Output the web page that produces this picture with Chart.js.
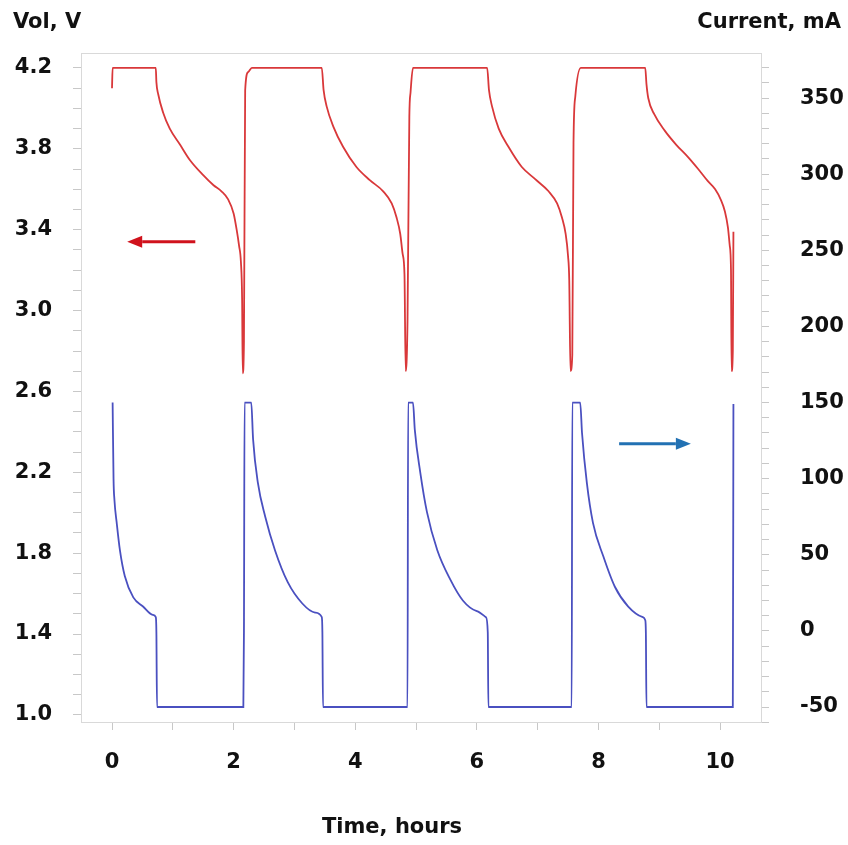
<!DOCTYPE html>
<html>
<head>
<meta charset="utf-8">
<script src="https://cdn.jsdelivr.net/npm/chart.js@4.4.1/dist/chart.umd.min.js"></script>
<style>
  html, body { margin: 0; padding: 0; background: #fff; }
  #chart { display: block; }
</style>
</head>
<body>
<canvas id="chart" width="848" height="845"></canvas>
<script>
// tick labels
const timeTicks = [0, 2, 4, 6, 8, 10];
const voltTicks = [1.0, 1.4, 1.8, 2.2, 2.6, 3.0, 3.4, 3.8, 4.2];
const currentTicks = [-50, 0, 50, 100, 150, 200, 250, 300, 350];

// voltage, V (left axis)
const voltTime = [
    0.00, 0.01, 0.72, 0.73, 0.76, 0.84, 0.95, 1.12, 1.28, 1.50, 1.67, 1.80, 1.91, 2.00, 2.05, 2.09, 2.12, 2.14, 2.15, 2.17, 2.19, 2.24, 2.30,
    3.45, 3.48, 3.53, 3.64, 3.80, 4.02, 4.24, 4.46, 4.60, 4.68, 4.74, 4.78, 4.81, 4.83, 4.86, 4.89, 4.91, 4.95,
    6.17, 6.20, 6.25, 6.36, 6.52, 6.74, 6.96, 7.18, 7.32, 7.40, 7.46, 7.50, 7.52, 7.54, 7.57, 7.59, 7.62, 7.71,
    8.77, 8.79, 8.82, 8.92, 9.09, 9.28, 9.47, 9.64, 9.80, 9.92, 10.01, 10.08, 10.13, 10.16, 10.18, 10.19, 10.21, 10.22
];
const voltValues = [
    4.10, 4.20, 4.20, 4.13, 4.07, 3.98, 3.90, 3.82, 3.745, 3.67, 3.62, 3.59, 3.55, 3.48, 3.40, 3.32, 3.24, 3.05, 2.69, 2.85, 4.09, 4.18, 4.20,
    4.20, 4.09, 4.01, 3.91, 3.81, 3.71, 3.645, 3.59, 3.53, 3.46, 3.38, 3.28, 3.18, 2.70, 2.95, 3.96, 4.08, 4.20,
    4.20, 4.09, 4.01, 3.90, 3.81, 3.71, 3.65, 3.59, 3.53, 3.46, 3.38, 3.27, 3.15, 2.70, 2.78, 3.83, 4.06, 4.20,
    4.20, 4.12, 4.05, 3.97, 3.89, 3.82, 3.76, 3.70, 3.64, 3.60, 3.55, 3.49, 3.41, 3.32, 3.20, 2.70, 2.80, 3.39
];

// current, mA (right axis)
const currentTime = [
    0.01, 0.025, 0.04, 0.08, 0.13, 0.21, 0.35, 0.51, 0.67, 0.72, 0.73, 0.74, 2.16, 2.17,
    2.18, 2.29, 2.32, 2.40, 2.52, 2.68, 2.89, 3.13, 3.34, 3.45, 3.46, 3.47, 4.86,
    4.87, 4.95, 4.98, 5.07, 5.18, 5.35, 5.56, 5.77, 6.00, 6.15, 6.18, 6.19, 7.56,
    7.57, 7.70, 7.73, 7.81, 7.91, 8.08, 8.27, 8.49, 8.73, 8.77, 8.78, 8.79, 10.21, 10.22
];
const currentValues = [
    150, 100, 86, 70, 53, 36, 22, 16, 10.5, 9, -1, -50, -50, 0,
    150, 150, 126, 97, 75, 53, 32, 18, 12, 9, -1, -50, -50,
    150, 150, 132, 104, 78, 53, 34, 20, 13, 9, -1, -50, -50,
    150, 150, 130, 97, 71, 49, 29, 16, 9, 7, -1, -50, -50, 149
];

const toPoints = (xs, ys) => xs.map((x, i) => ({ x: x, y: ys[i] }));
const stepTicks = (from, to, step) => {
    const out = [];
    for (let v = from; v <= to + 1e-9; v += step) out.push({ value: Math.round(v * 100) / 100 });
    return out;
};
const hasLabel = (list, v) => list.some(t => Math.abs(t - v) < 1e-6);

Chart.defaults.font.family = '"DejaVu Sans"';
Chart.defaults.font.size = 21;
Chart.defaults.font.weight = 'bold';
Chart.defaults.color = '#111';

function drawArrow(ctx, x1, y1, x2, y2, color) {
    const ang = Math.atan2(y2 - y1, x2 - x1);
    const head = 15;
    ctx.strokeStyle = color;
    ctx.fillStyle = color;
    ctx.lineWidth = 3;
    ctx.beginPath();
    ctx.moveTo(x1, y1);
    ctx.lineTo(x2 - head * Math.cos(ang), y2 - head * Math.sin(ang));
    ctx.stroke();
    ctx.beginPath();
    ctx.moveTo(x2, y2);
    ctx.lineTo(x2 - head * Math.cos(ang) + 6 * Math.sin(ang), y2 - head * Math.sin(ang) - 6 * Math.cos(ang));
    ctx.lineTo(x2 - head * Math.cos(ang) - 6 * Math.sin(ang), y2 - head * Math.sin(ang) + 6 * Math.cos(ang));
    ctx.closePath();
    ctx.fill();
}

const extras = {
    id: 'extras',
    afterDraw(chart) {
        const { ctx, chartArea: a, scales } = chart;
        ctx.save();
        // caixa do gráfico
        ctx.strokeStyle = '#d9d9d9';
        ctx.lineWidth = 1;
        ctx.strokeRect(a.left + 0.5, a.top + 0.5, a.right - a.left - 1, a.bottom - a.top - 1);

        // títulos dos eixos
        ctx.fillStyle = '#111';
        ctx.font = 'bold 21px "DejaVu Sans"';
        ctx.textBaseline = 'middle';
        ctx.textAlign = 'left';
        ctx.fillText('Vol, V', 13, 23);
        ctx.textAlign = 'right';
        ctx.fillText('Current, mA', 841, 23);
        ctx.textAlign = 'center';
        ctx.fillText('Time, hours', 392, 828);

        // setas indicando o eixo de cada curva
        const x = scales.x, yv = scales.y, yc = scales.y1;
        drawArrow(ctx, x.getPixelForValue(1.37), yv.getPixelForValue(3.34),
            x.getPixelForValue(0.25), yv.getPixelForValue(3.34), '#d0121c');
        drawArrow(ctx, x.getPixelForValue(8.34), yc.getPixelForValue(123),
            x.getPixelForValue(9.52), yc.getPixelForValue(123), '#2271b3');
        ctx.restore();
    }
};

const gridStyle = { drawOnChartArea: false, drawTicks: true, color: '#c8c8c8', lineWidth: 1 };

new Chart(document.getElementById('chart'), {
    type: 'line',
    data: {
        datasets: [{
            label: 'Voltage',
            data: toPoints(voltTime, voltValues),
            yAxisID: 'y',
            borderColor: '#d9383a',
            borderWidth: 1.8,
            pointRadius: 0,
            cubicInterpolationMode: 'monotone'
        }, {
            label: 'Current',
            data: toPoints(currentTime, currentValues),
            yAxisID: 'y1',
            borderColor: '#4a50c0',
            borderWidth: 1.8,
            pointRadius: 0,
            cubicInterpolationMode: 'monotone'
        }]
    },
    options: {
        responsive: false,
        animation: false,
        layout: { padding: { top: 53, left: 0, right: 0, bottom: 0 } },
        plugins: { legend: { display: false }, tooltip: { enabled: false } },
        scales: {
            x: {
                type: 'linear',
                min: -0.51,
                max: 10.69,
                border: { display: false },
                grid: { ...gridStyle, tickLength: 7 },
                afterBuildTicks: s => { s.ticks = stepTicks(0, 10, 1); },
                afterFit: s => { s.height = 122; },
                ticks: {
                    autoSkip: false,
                    maxRotation: 0,
                    padding: 20,
                    callback: v => hasLabel(timeTicks, v) ? String(v) : ''
                }
            },
            y: {
                position: 'left',
                min: 0.96,
                max: 4.274,
                border: { display: false },
                grid: { ...gridStyle, tickLength: 8 },
                afterBuildTicks: s => { s.ticks = stepTicks(1.0, 4.2, 0.1); },
                afterFit: s => { s.width = 81; },
                ticks: {
                    autoSkip: false,
                    padding: 21,
                    callback: v => hasLabel(voltTicks, v) ? v.toFixed(1) : ''
                }
            },
            y1: {
                position: 'right',
                min: -60.5,
                max: 379.6,
                border: { display: false },
                grid: { ...gridStyle, tickLength: 7 },
                afterBuildTicks: s => { s.ticks = stepTicks(-60, 370, 10); },
                afterFit: s => { s.width = 86; },
                ticks: {
                    autoSkip: false,
                    padding: 31,
                    callback: v => hasLabel(currentTicks, v) ? String(v) : ''
                }
            }
        }
    },
    plugins: [extras]
});
</script>
</body>
</html>
